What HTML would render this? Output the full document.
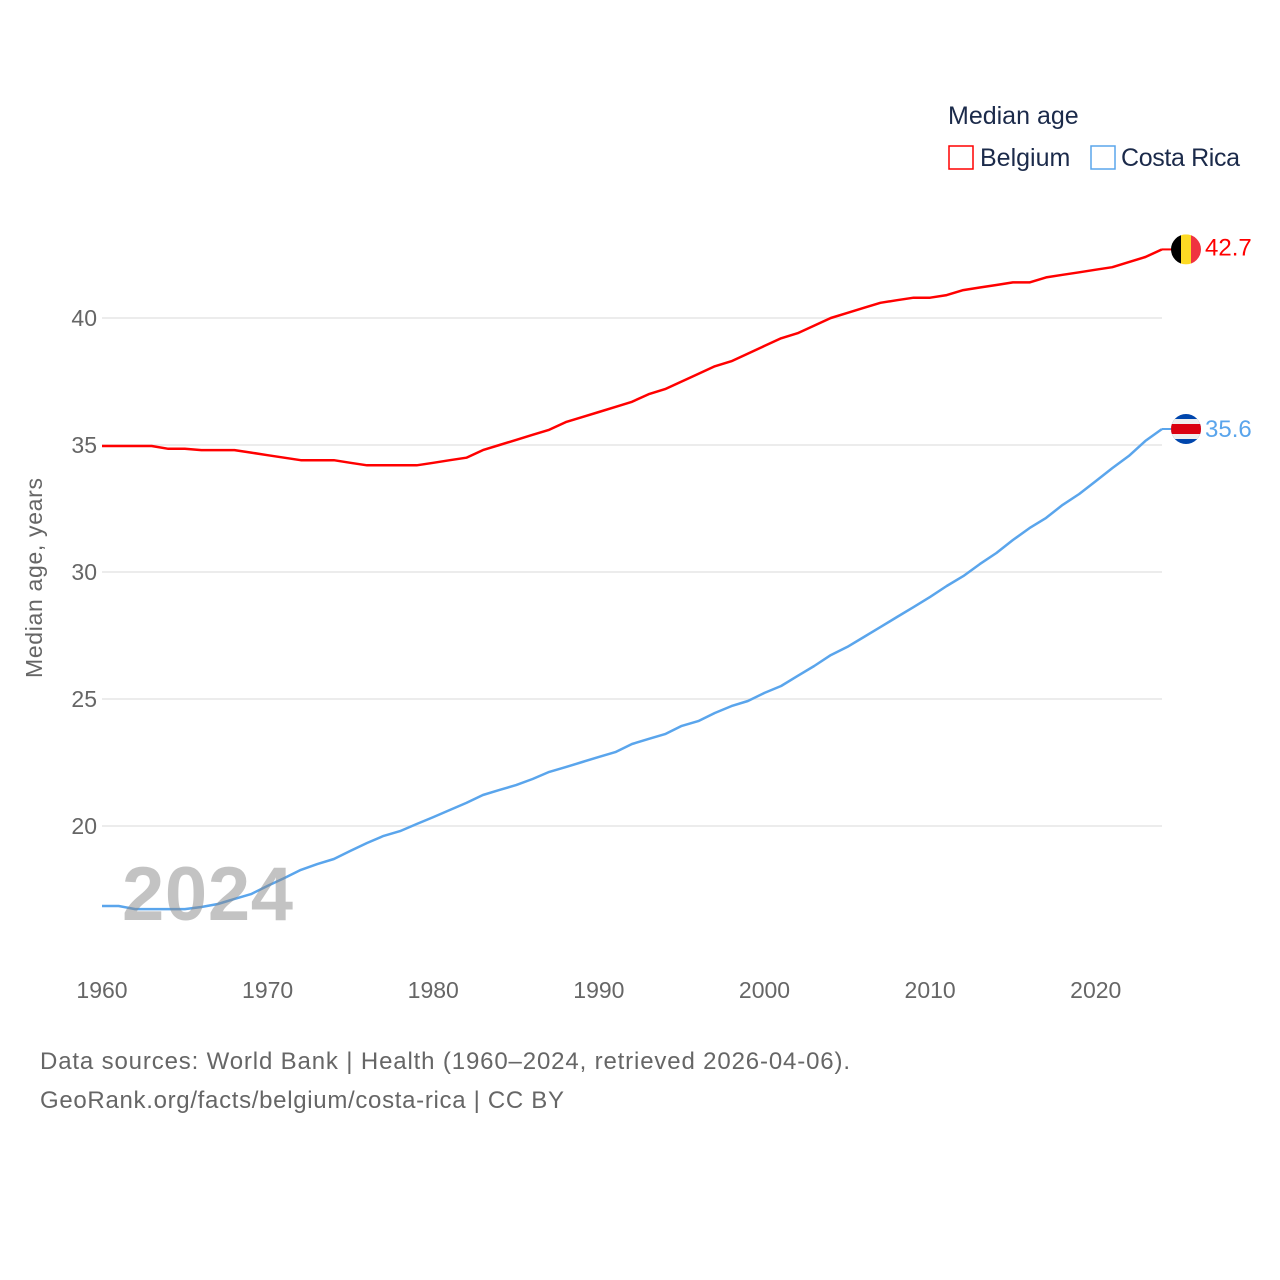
<!DOCTYPE html>
<html><head><meta charset="utf-8"><style>
body{margin:0;background:#fff;}
svg{display:block;font-family:"Liberation Sans",sans-serif;}
</style></head><body>
<svg id="chart" width="1280" height="1280" viewBox="0 0 1280 1280">
<rect width="1280" height="1280" fill="#fff"/>
<g id="grid"></g><g id="ylabels"></g><g id="xlabels"></g><g id="lines"></g>
<text x="42" y="578" transform="rotate(-90 42 578)" text-anchor="middle" font-size="23" fill="#666" textLength="200">Median age, years</text>
<text x="948" y="124" font-size="25" fill="#1b2a4a">Median age</text>
<g><rect x="949" y="146" width="24" height="23" fill="none" stroke="#ff0000" stroke-width="1.5"/><text x="980" y="166" font-size="25" fill="#1b2a4a">Belgium</text></g>
<g><rect x="1091" y="146" width="24" height="23" fill="none" stroke="#5aa5ec" stroke-width="1.5"/><text x="1121" y="166" font-size="25" fill="#1b2a4a" textLength="119">Costa Rica</text></g>
<g id="ends"></g>
<text x="122" y="920" font-size="76" font-weight="bold" fill="#888" fill-opacity="0.5" textLength="171">2024</text>
<text x="40" y="1069" font-size="24" fill="#666" textLength="810">Data sources: World Bank | Health (1960–2024, retrieved 2026-04-06).</text>
<text x="40" y="1108" font-size="24" fill="#666" textLength="524">GeoRank.org/facts/belgium/costa-rica | CC BY</text>
</svg>
<script>
const years=[];for(let y=1960;y<=2024;y++)years.push(y);
const belgium=[34.96,34.96,34.96,34.96,34.85,34.85,34.8,34.8,34.8,34.7,34.6,34.5,34.4,34.4,34.4,34.3,34.2,34.2,34.2,34.2,34.3,34.4,34.5,34.8,35.0,35.2,35.4,35.6,35.9,36.1,36.3,36.5,36.7,37.0,37.2,37.5,37.8,38.1,38.3,38.6,38.9,39.2,39.4,39.7,40.0,40.2,40.4,40.6,40.7,40.8,40.8,40.9,41.1,41.2,41.3,41.4,41.4,41.6,41.7,41.8,41.9,42.0,42.2,42.4,42.7];
const costaRica=[16.85,16.85,16.73,16.73,16.73,16.73,16.81,16.93,17.13,17.32,17.64,17.95,18.27,18.5,18.7,19.02,19.33,19.61,19.8,20.08,20.35,20.63,20.91,21.22,21.42,21.61,21.85,22.13,22.32,22.52,22.72,22.91,23.23,23.43,23.62,23.94,24.13,24.45,24.72,24.92,25.24,25.51,25.91,26.3,26.73,27.05,27.44,27.83,28.23,28.62,29.02,29.45,29.84,30.31,30.75,31.26,31.73,32.13,32.64,33.07,33.58,34.09,34.57,35.16,35.63];
const yTicks=[20,25,30,35,40];
const xTicks=[1960,1970,1980,1990,2000,2010,2020];
const NS="http://www.w3.org/2000/svg";
const X=y=>102+(y-1960)*(1060/64);
const Y=v=>318+(40-v)*25.4;
function mk(tag,attrs,parent,txt){const e=document.createElementNS(NS,tag);for(const k in attrs)e.setAttribute(k,attrs[k]);if(txt!==undefined)e.textContent=txt;parent.appendChild(e);return e;}
const grid=document.getElementById('grid'),yl=document.getElementById('ylabels'),xl=document.getElementById('xlabels'),ln=document.getElementById('lines'),ends=document.getElementById('ends');
yTicks.forEach(t=>{
 const g=mk('line',{x1:102,x2:1162,y1:Y(t),y2:Y(t),stroke:'#e6e6e6','stroke-width':1.5},grid);
 
 
 const l=mk('text',{x:97,y:Y(t)+8,'text-anchor':'end','font-size':23,fill:'#666'},yl,String(t));
 
 
});
xTicks.forEach(t=>{
 const l=mk('text',{x:X(t),y:998,'text-anchor':'middle','font-size':23,fill:'#666'},xl,String(t));
 
 
});
function series(vals,color,name){
 const d=vals.map((v,i)=>(i?'L':'M')+X(years[i]).toFixed(1)+' '+Y(v).toFixed(1)).join(' ');
 const p=mk('path',{d:d,fill:'none',stroke:color,'stroke-width':2.5,'stroke-linejoin':'round'},ln);
 
 
}
series(belgium,'#ff0000','belgium');
series(costaRica,'#5aa5ec','costa-rica');
const bv=belgium[belgium.length-1],cv=costaRica[costaRica.length-1];
const by=Y(bv),cy=Y(cv);
mk('line',{x1:1162,x2:1172,y1:by,y2:by,stroke:'#ff0000','stroke-width':2},ends);
mk('line',{x1:1162,x2:1172,y1:cy,y2:cy,stroke:'#5aa5ec','stroke-width':2},ends);
const defs=mk('defs',{},ends);
const c1=mk('clipPath',{id:'cb'},defs);mk('circle',{cx:1186,cy:by,r:15},c1);
const c2=mk('clipPath',{id:'cc'},defs);mk('circle',{cx:1186,cy:cy,r:15},c2);
const fb=mk('g',{'clip-path':'url(#cb)'},ends);


mk('rect',{x:1171,y:by-15,width:10,height:30,fill:'#000'},fb);
mk('rect',{x:1181,y:by-15,width:10,height:30,fill:'#fdda24'},fb);
mk('rect',{x:1191,y:by-15,width:10,height:30,fill:'#ef3340'},fb);
const fc=mk('g',{'clip-path':'url(#cc)'},ends);


mk('rect',{x:1171,y:cy-15,width:30,height:30,fill:'#0046ad'},fc);
mk('rect',{x:1171,y:cy-10,width:30,height:20,fill:'#eee'},fc);
mk('rect',{x:1171,y:cy-5,width:30,height:10,fill:'#da0010'},fc);
const lb=mk('text',{x:1205,y:by+6,'font-size':24,fill:'#ff0000'},ends,bv.toFixed(1));


const lc=mk('text',{x:1205,y:cy+8,'font-size':24,fill:'#5aa5ec'},ends,cv.toFixed(1));


</script>
</body></html>
